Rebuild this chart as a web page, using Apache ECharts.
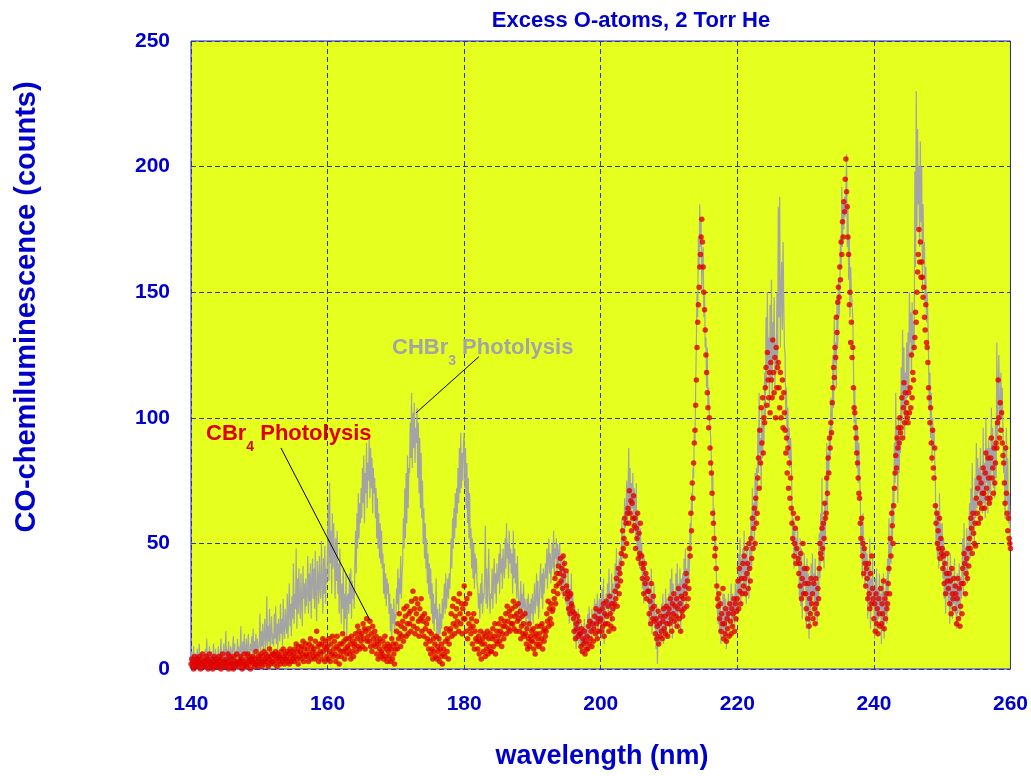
<!DOCTYPE html>
<html>
<head>
<meta charset="utf-8">
<script src="https://cdn.jsdelivr.net/npm/echarts@6/dist/echarts.min.js"></script>
<style>
  html, body { margin: 0; padding: 0; background: #ffffff; }
  #chart { width: 1031px; height: 776px; }
</style>
</head>
<body>
<div id="chart"></div>
<script>
// Wavelength sampling of both spectra (nm): one row below = 1 nm
const WL_START = 140;
const WL_STEP = 0.1;

// CHBr3 photolysis spectrum, counts (grey trace)
const chbr3Counts = [
  3,7,2,5,9,1,4,6,2,8,  5,1,10,3,6,2,7,4,1,5,  2,8,4,12,3,6,1,9,5,3,  7,2,5,10,1,4,8,3,6,2,  9,4,2,7,12,3,6,5,10,2,
  6,15,4,8,3,11,5,2,9,7,  3,8,13,5,10,2,7,4,12,6,  9,4,7,17,3,8,11,5,14,6,  5,12,3,9,14,6,4,10,7,13,  6,16,4,11,8,14,5,12,9,7,
  10,22,6,15,9,18,7,13,20,8,  12,29,8,17,11,24,6,15,21,10,  14,9,22,12,25,10,18,8,20,15,  11,26,14,20,9,28,16,12,24,18,  14,30,12,22,34,17,26,13,29,20,
  42,18,30,24,48,16,36,22,40,27,  20,38,26,17,41,28,34,22,36,25,  30,45,22,38,27,42,20,35,44,28,  40,24,47,30,19,43,35,26,45,32,  28,51,36,22,44,30,49,26,40,34,
  48,66,35,74,42,55,30,62,40,58,  45,28,52,35,55,30,42,22,48,33,  18,34,24,40,14,30,20,38,12,28,  30,22,38,26,40,20,35,28,32,24,  42,55,38,62,48,70,52,66,58,72,
  60,80,66,85,58,78,70,90,64,82,  75,92,68,88,72,84,62,80,70,76,  60,72,52,68,48,62,44,58,42,55,  40,46,30,42,28,38,25,36,30,34,  22,30,15,26,12,24,18,28,14,22,
  20,32,26,40,22,36,30,45,28,38,  42,60,48,72,52,78,58,85,64,80,  78,98,84,110,80,102,88,106,82,96,  90,104,76,98,70,92,64,86,60,75,  50,64,44,58,40,52,34,46,30,42,
  28,40,22,34,18,30,15,26,20,36,  12,24,18,10,26,14,22,16,28,20,  26,34,22,38,24,30,36,28,38,32,  42,52,40,60,48,64,52,70,56,72,  62,80,66,88,70,94,72,86,75,90,
  94,72,88,64,82,58,76,52,70,48,  56,40,52,36,50,32,46,38,44,34,  32,24,30,20,34,26,38,22,30,28,  36,57,26,40,24,34,48,28,22,30,  28,40,24,35,44,30,38,26,42,34,
  36,46,30,50,38,44,32,48,40,36,  52,40,58,44,50,36,55,42,48,38,  46,30,55,36,48,34,42,28,45,32,  32,20,28,35,18,30,24,34,22,28,  24,15,28,20,30,18,26,16,28,22,
  30,18,26,34,22,28,38,25,35,20,  26,36,42,28,38,24,40,30,35,42,  36,48,32,44,52,38,46,34,42,50,  40,55,36,48,44,52,38,50,42,46,  50,36,44,30,42,28,46,34,40,26,
  34,22,40,28,18,32,24,38,20,30,  22,12,25,16,8,20,14,24,10,18,  12,6,18,10,15,8,20,12,16,9,  14,22,9,25,16,20,12,24,18,15,  20,28,14,26,18,30,12,24,28,18,
  28,12,32,18,36,10,26,22,30,24,  34,20,40,24,30,18,38,26,34,22,  24,42,30,48,28,38,32,44,36,46,  38,60,44,52,50,68,56,62,75,58,  70,88,62,80,58,74,64,78,55,72,
  68,52,74,48,62,44,58,40,56,46,  50,32,46,26,44,30,40,28,36,32,  36,18,32,22,40,14,30,20,34,16,  22,8,26,2,18,24,10,20,14,26,  16,30,10,25,14,32,12,28,18,24,
  30,14,36,18,40,12,34,22,28,16,  38,20,42,16,34,24,40,14,36,22,  38,24,44,30,48,26,40,32,46,36,  42,58,48,70,62,80,76,94,90,112,  130,150,140,172,160,185,168,178,150,165,
  168,140,150,128,132,112,128,104,112,100,  100,92,84,70,78,58,64,48,52,40,  32,22,18,26,14,28,10,22,16,30,  14,30,12,28,8,24,20,30,16,26,  22,34,16,30,20,28,18,34,24,30,
  36,22,46,30,52,26,44,38,48,30,  55,30,46,26,50,36,42,28,52,40,  60,40,72,55,66,48,78,58,80,64,  96,78,110,86,92,72,104,84,98,90,  118,100,140,112,150,120,132,104,145,115,
  155,108,138,125,148,112,130,118,150,122,  184,140,188,128,150,162,135,170,145,128,  125,100,112,90,104,84,96,80,92,86,  66,50,60,40,58,46,52,42,56,48,  44,28,52,25,48,20,40,30,46,34,
  40,16,44,22,38,12,35,18,42,26,  46,30,38,20,44,26,34,18,40,28,  54,36,62,48,76,44,58,40,66,52,  70,90,62,86,78,96,84,108,92,100,  125,104,140,122,130,112,148,128,155,140,
  148,172,160,192,168,185,175,188,180,190,  205,168,185,155,172,140,160,150,146,140,  124,98,112,86,100,80,96,74,90,78,  70,46,58,36,62,42,52,32,48,38,  46,20,40,28,52,16,36,24,44,30,
  28,12,36,18,40,14,32,20,38,24,  30,10,34,16,38,12,28,22,36,18,  44,30,60,38,52,42,66,48,72,58,  90,74,110,80,95,66,100,78,92,86,  120,98,135,104,128,92,118,100,130,108,
  134,110,150,130,142,118,146,125,138,128,  198,160,230,175,215,185,200,168,210,178,  200,150,185,162,170,145,160,138,150,140,  125,104,118,92,110,82,100,88,96,84,  75,50,66,44,62,40,70,48,58,45,
  58,36,52,28,48,22,40,30,46,26,  38,18,46,24,40,20,34,26,44,22,  34,16,38,22,30,42,20,36,28,40,  52,30,58,40,48,36,56,34,50,44,  66,44,72,52,82,58,68,50,76,60,
  90,64,84,70,80,58,88,66,78,62,  96,66,82,60,100,74,88,62,92,70,  88,66,104,80,96,72,90,68,98,76,  130,92,110,125,96,104,118,100,112,95,  78,88,60,72,96,66,84,58,70,62,
  52
];

// CBr4 photolysis spectrum, counts (red points)
const cbr4Counts = [
  2,4,1,3,0,5,2,1,3,4,  1,3,5,2,0,4,2,6,1,3,  3,1,5,2,4,0,3,6,2,1,  4,2,0,3,5,1,2,4,3,1,  2,5,1,3,0,4,6,2,1,3,
  3,1,4,2,6,0,3,5,2,1,  4,2,0,5,3,1,2,6,3,2,  1,3,5,2,4,0,3,2,6,1,  2,4,1,6,3,2,5,0,3,4,  3,5,2,1,4,7,2,3,1,5,
  4,2,6,3,1,5,3,7,2,4,  6,3,5,1,4,8,2,5,3,6,  3,6,2,5,7,4,1,6,3,5,  5,2,7,4,3,8,5,2,6,4,  4,7,3,6,2,8,5,3,7,4,
  6,3,8,5,10,4,7,2,9,5,  7,4,9,6,11,3,8,5,10,6,  5,8,3,10,6,12,4,9,7,5,  8,4,11,6,15,5,9,3,10,7,  6,10,4,12,7,9,3,11,8,5,
  9,4,12,7,3,10,6,13,5,8,  11,6,3,9,13,5,8,2,10,7,  5,10,14,7,11,4,8,12,6,9,  8,12,6,10,4,13,7,11,5,9,  10,14,7,12,17,9,15,8,13,11,
  14,9,18,12,16,8,15,20,11,13,  16,11,19,9,14,7,17,12,10,15,  9,13,6,11,4,10,8,12,5,7,  6,11,4,9,13,5,8,3,10,7,  5,9,3,8,12,4,10,6,2,8,
  10,15,8,18,12,22,14,9,17,13,  19,11,24,16,21,13,25,18,14,22,  18,23,15,27,20,31,17,24,14,28,  22,16,26,19,13,24,20,28,15,21,  19,13,22,16,10,18,12,20,8,15,
  11,6,14,8,4,12,7,10,5,13,  4,9,7,12,3,8,5,10,2,6,  8,14,5,11,16,7,12,4,10,15,  16,22,13,25,18,28,14,21,17,24,  19,27,15,30,22,18,26,14,24,20,
  33,20,26,15,28,12,22,18,30,16,  14,20,10,17,22,8,15,12,19,11,  8,13,6,11,15,4,10,12,7,14,  10,5,13,8,15,6,12,9,14,7,  7,12,16,9,13,18,6,11,15,10,
  13,18,11,15,20,9,14,17,12,19,  17,22,14,25,19,16,23,15,21,18,  24,18,27,16,21,25,15,22,19,26,  20,15,23,12,17,21,14,18,13,22,  14,10,16,8,12,18,9,13,11,15,
  11,16,8,13,6,14,10,17,12,9,  14,10,17,12,18,8,15,11,16,13,  15,22,19,27,17,24,20,26,18,23,  24,31,28,36,26,33,38,30,41,34,  38,44,35,40,32,45,37,42,30,39,
  33,28,31,24,29,22,30,26,25,23,  20,15,22,12,18,16,21,13,19,14,  14,9,16,7,12,10,15,6,11,8,  13,8,17,10,19,12,15,9,18,11,  16,21,14,24,18,12,20,15,23,19,
  20,15,24,17,26,13,22,18,27,21,  18,25,15,29,22,17,26,20,24,16,  26,31,28,36,25,33,40,30,38,35,  46,42,55,48,52,60,45,58,50,62,  64,58,71,62,67,55,66,60,69,57,
  60,48,56,52,62,44,54,46,58,42,  45,36,40,30,42,34,38,28,36,31,  31,22,27,18,34,24,20,29,25,19,  14,20,12,17,23,10,18,13,21,15,  12,19,24,16,21,14,25,18,13,22,
  24,18,28,20,15,26,22,30,19,25,  21,28,17,24,32,20,26,15,29,23,  21,28,24,33,30,38,25,35,28,32,  48,45,62,55,74,68,82,90,95,105,  115,128,138,145,152,160,165,172,179,170,
  160,150,143,135,125,118,110,104,96,100,  88,82,78,70,62,58,52,45,48,40,  33,28,25,30,20,26,15,22,18,32,  12,18,14,24,11,20,16,22,13,26,  19,14,24,17,22,28,15,26,20,23,
  28,35,24,40,31,26,36,30,42,33,  45,36,30,48,38,42,32,50,40,35,  52,44,60,48,56,64,50,68,58,62,  76,84,72,95,82,104,90,108,86,100,  98,112,120,105,126,115,108,118,102,122,
  115,108,131,118,110,124,100,128,112,120,  122,112,104,118,100,108,115,96,110,102,  95,86,92,78,88,72,82,68,76,64,  58,52,62,45,50,56,42,48,60,44,  38,42,33,46,28,36,50,30,40,34,
  30,24,40,20,34,17,28,22,36,26,  30,20,34,24,18,36,26,22,32,28,  40,50,46,44,56,48,58,52,66,60,  62,76,70,84,78,92,88,98,94,106,  112,120,116,128,124,140,134,146,152,148,
  160,155,170,165,178,172,186,182,195,203,  190,184,172,165,145,150,130,138,124,128,  112,104,102,96,92,86,82,76,70,68,  58,52,60,45,50,38,48,42,33,40,  36,28,42,30,24,38,26,45,32,28,
  20,26,15,30,18,24,14,28,22,17,  32,18,26,22,35,16,28,20,30,24,  26,34,40,30,52,45,62,57,50,65,  72,78,85,80,92,88,96,90,100,94,  96,108,92,104,114,98,110,102,106,100,
  98,110,102,112,104,125,108,118,115,128,  132,142,138,150,158,165,175,162,170,156,  162,156,148,152,140,135,145,130,128,122,  112,108,98,104,90,84,95,80,76,88,  65,58,62,50,55,48,60,44,52,46,
  48,40,45,34,42,30,38,46,35,32,  38,26,35,22,40,30,28,36,24,33,  30,18,28,36,20,32,17,25,34,22,  40,34,46,42,30,38,44,36,48,41,  52,48,60,56,46,62,54,50,58,49,
  68,62,72,58,76,66,60,74,64,70,  80,70,64,78,86,72,68,84,76,66,  68,84,92,76,80,70,88,74,82,90,  88,98,115,100,92,106,95,102,90,85,  82,74,66,88,70,62,55,60,52,50,
  48
];

// Axis ticks
const xTicks = [140, 160, 180, 200, 220, 240, 260];
const yTicks = [0, 50, 100, 150, 200, 250];

// Leader lines from the labels to their traces, [wavelength, counts]
const chbr3Pointer = [[182.15, 124.3], [172.93, 101.9]];
const cbr4Pointer = [[153.17, 88.0], [166.2, 19.5]];

const FONT = '"Liberation Sans", Arial, Helvetica, sans-serif';
const BLUE = '#0000cc';

function toPairs(values) {
  return values.map((v, i) => [+(WL_START + i * WL_STEP).toFixed(2), v]);
}

const chart = echarts.init(document.getElementById('chart'), null, { renderer: 'canvas' });

const tickLabel = {
  color: BLUE,
  fontFamily: FONT,
  fontWeight: 'bold',
  fontSize: 21
};
const gridLine = {
  show: true,
  lineStyle: { color: '#33338c', width: 1, type: [5, 3] }
};

chart.setOption({
  animation: false,
  backgroundColor: '#ffffff',
  title: [
    {
      text: '{m|CHBr}{s|3}{m| Photolysis}',
      left: 392,
      top: 328,
      padding: 0,
      textStyle: {
        rich: {
          m: { fontFamily: FONT, fontWeight: 'bold', fontSize: 22, color: '#a4a4a4', verticalAlign: 'middle' },
          s: { fontFamily: FONT, fontWeight: 'bold', fontSize: 14, color: '#a4a4a4', verticalAlign: 'middle', padding: [26, 0, 0, 0] }
        }
      }
    },
    {
      text: '{m|CBr}{s|4}{m| Photolysis}',
      left: 206,
      top: 414,
      padding: 0,
      textStyle: {
        rich: {
          m: { fontFamily: FONT, fontWeight: 'bold', fontSize: 22, color: '#e00000', verticalAlign: 'middle' },
          s: { fontFamily: FONT, fontWeight: 'bold', fontSize: 14, color: '#e00000', verticalAlign: 'middle', padding: [26, 0, 0, 0] }
        }
      }
    }
  ],
  graphic: [
    {
      type: 'text',
      x: 631,
      y: 21,
      style: {
        text: 'Excess O-atoms, 2 Torr He',
        font: 'bold 22px ' + FONT,
        fill: BLUE,
        textAlign: 'center',
        textVerticalAlign: 'middle'
      }
    },
    {
      type: 'text',
      x: 602,
      y: 757,
      style: {
        text: 'wavelength (nm)',
        font: 'bold 27px ' + FONT,
        fill: BLUE,
        textAlign: 'center',
        textVerticalAlign: 'middle'
      }
    },
    {
      type: 'text',
      x: 27,
      y: 307,
      rotation: Math.PI / 2,
      style: {
        text: 'CO-chemiluminescence (counts)',
        font: 'bold 29px ' + FONT,
        fill: BLUE,
        textAlign: 'center',
        textVerticalAlign: 'middle'
      }
    }
  ],
  grid: {
    left: 191,
    right: 20,
    top: 41,
    bottom: 107,
    show: true,
    backgroundColor: '#e5ff1f',
    borderColor: '#1c1ce0',
    borderWidth: 1
  },
  xAxis: {
    type: 'value',
    min: xTicks[0],
    max: xTicks[xTicks.length - 1],
    interval: xTicks[1] - xTicks[0],
    axisLine: { show: false },
    axisTick: { show: false },
    axisLabel: Object.assign({ margin: 25 }, tickLabel),
    splitLine: gridLine
  },
  yAxis: {
    type: 'value',
    min: yTicks[0],
    max: yTicks[yTicks.length - 1],
    interval: yTicks[1] - yTicks[0],
    axisLine: { show: false },
    axisTick: { show: false },
    axisLabel: Object.assign({ margin: 21 }, tickLabel),
    splitLine: gridLine
  },
  series: [
    {
      name: 'CHBr3 Photolysis',
      type: 'line',
      data: toPairs(chbr3Counts),
      symbol: 'none',
      showSymbol: false,
      lineStyle: { color: '#a4a4a4', width: 1.2 },
      z: 2
    },
    {
      name: 'CBr4 Photolysis',
      type: 'scatter',
      data: toPairs(cbr4Counts),
      symbol: 'circle',
      symbolSize: 5.5,
      itemStyle: { color: '#e00000' },
      z: 3,
      markLine: {
        silent: true,
        symbol: ['none', 'none'],
        label: { show: false },
        lineStyle: { color: '#000000', width: 1, type: 'solid' },
        data: [
          [{ coord: chbr3Pointer[0] }, { coord: chbr3Pointer[1] }],
          [{ coord: cbr4Pointer[0] }, { coord: cbr4Pointer[1] }]
        ]
      }
    }
  ]
});
</script>
</body>
</html>
